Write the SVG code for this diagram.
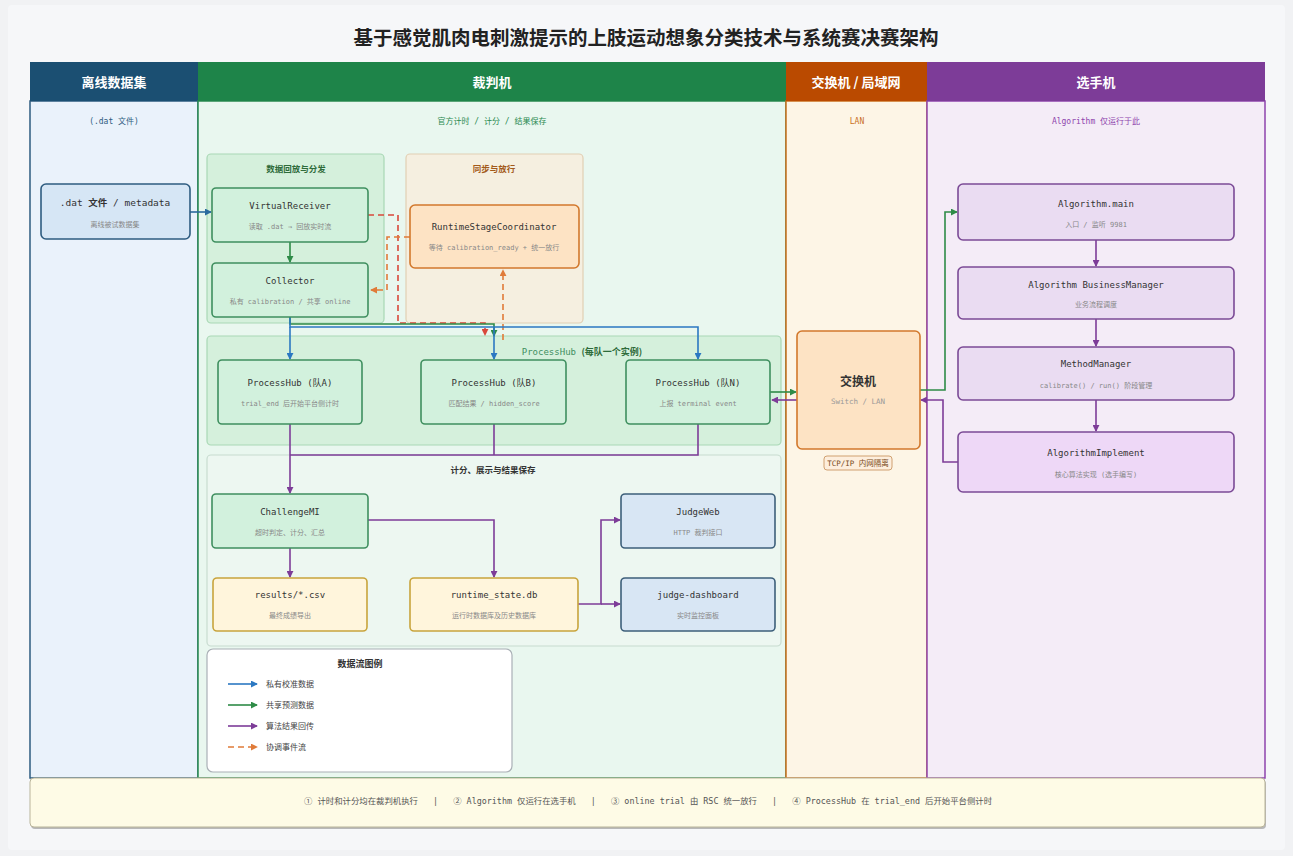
<svg xmlns="http://www.w3.org/2000/svg" width="1293" height="856" viewBox="0 0 1293 856">
<defs>
<style>
.mono{font-family:"DejaVu Sans Mono","Liberation Mono","Noto Sans CJK SC",monospace}
.sans{font-family:"Noto Sans CJK SC","Noto Sans",sans-serif}
.hdr{font-family:"Noto Sans CJK SC",sans-serif;font-size:13px;font-weight:bold;fill:#fff;text-anchor:middle}
.csub{font-size:8px;text-anchor:middle}
.nt{font-size:9px;fill:#333;text-anchor:middle}
.ns{font-size:7px;fill:#888;text-anchor:middle}
.gt{font-family:"Noto Sans CJK SC",sans-serif;font-size:8.5px;font-weight:bold;text-anchor:middle}
.nb{stroke-width:1.6}
.blue{fill:#d6e6f5;stroke:#2e5c80}
.green{fill:#d2f1dd;stroke:#3f8f5f}
.orange{fill:#fde3c4;stroke:#d2782c}
.yellow{fill:#fff5dc;stroke:#c8a43c}
.lblue{fill:#d8e6f4;stroke:#3d5f7a}
.purple{fill:#eadcf2;stroke:#7b4a96}
.c{fill:none;stroke-width:1.6}
.cb{stroke:#2b78c2}
.cg{stroke:#2e8b47}
.cp{stroke:#7d3c98}
.co{stroke:#e07b39;stroke-dasharray:6 4}
.cr{stroke:#d9483b;stroke-dasharray:6 4}
</style>
<marker id="ab" viewBox="0 0 8 8" refX="7" refY="4" markerWidth="7" markerHeight="7" markerUnits="userSpaceOnUse" orient="auto"><path d="M0,0 L8,4 L0,8 z" fill="#2b78c2"/></marker>
<marker id="ag" viewBox="0 0 8 8" refX="7" refY="4" markerWidth="7" markerHeight="7" markerUnits="userSpaceOnUse" orient="auto"><path d="M0,0 L8,4 L0,8 z" fill="#2e8b47"/></marker>
<marker id="ap" viewBox="0 0 8 8" refX="7" refY="4" markerWidth="7" markerHeight="7" markerUnits="userSpaceOnUse" orient="auto"><path d="M0,0 L8,4 L0,8 z" fill="#7d3c98"/></marker>
<marker id="ao" viewBox="0 0 8 8" refX="7" refY="4" markerWidth="7" markerHeight="7" markerUnits="userSpaceOnUse" orient="auto"><path d="M0,0 L8,4 L0,8 z" fill="#e07b39"/></marker>
<marker id="ar" viewBox="0 0 8 8" refX="7" refY="4" markerWidth="7" markerHeight="7" markerUnits="userSpaceOnUse" orient="auto"><path d="M0,0 L8,4 L0,8 z" fill="#d9483b"/></marker>
<marker id="adb" viewBox="0 0 8 8" refX="7" refY="4" markerWidth="7" markerHeight="7" markerUnits="userSpaceOnUse" orient="auto"><path d="M0,0 L8,4 L0,8 z" fill="#2b6a9e"/></marker>
</defs>

<rect x="0" y="0" width="1293" height="856" fill="#f1f2f4"/>
<rect x="8" y="5" width="1277" height="845" rx="4" fill="#f6f7f9"/>

<text x="646" y="45" class="sans" font-size="19.5" font-weight="bold" fill="#222" text-anchor="middle">基于感觉肌肉电刺激提示的上肢运动想象分类技术与系统赛决赛架构</text>

<!-- columns -->
<g id="col-offline">
<rect x="30" y="101" width="168" height="677" fill="#eaf2fb" stroke="#2e5c80" stroke-width="1.5"/>
<rect x="30" y="62" width="168" height="39" fill="#1b4f72"/>
<text x="114" y="87" class="hdr">离线数据集</text>
<text x="114" y="124" class="mono csub" fill="#2e5c80">(.dat 文件)</text>
</g>
<g id="col-judge">
<rect x="198" y="101" width="588" height="677" fill="#e9f7ef" stroke="#2a8a50" stroke-width="1.5"/>
<rect x="198" y="62" width="588" height="39" fill="#1e8449"/>
<text x="492" y="87" class="hdr">裁判机</text>
<text x="492" y="124" class="mono csub" fill="#2a8a50">官方计时 / 计分 / 结果保存</text>
</g>
<g id="col-switch">
<rect x="786" y="101" width="141" height="677" fill="#fdf5e6" stroke="#ca6f1e" stroke-width="1.5"/>
<rect x="786" y="62" width="141" height="39" fill="#ba4a00"/>
<text x="856" y="87" class="hdr">交换机 / 局域网</text>
<text x="857" y="124" class="mono csub" fill="#ca6f1e">LAN</text>
</g>
<g id="col-player">
<rect x="927" y="101" width="338" height="677" fill="#f4ecf7" stroke="#8e44ad" stroke-width="1.5"/>
<rect x="927" y="62" width="338" height="39" fill="#7d3c98"/>
<text x="1096" y="87" class="hdr">选手机</text>
<text x="1096" y="124" class="mono csub" fill="#8e44ad">Algorithm 仅运行于此</text>
</g>

<!-- groups -->
<g id="grp-replay">
<rect x="207" y="154" width="177" height="169" rx="4" fill="#d5f0dc" stroke="#a9d8b5" stroke-width="1.2"/>
<text x="296" y="172" class="gt" fill="#2e6b3a">数据回放与分发</text>
</g>
<g id="grp-sync">
<rect x="406" y="154" width="177" height="169" rx="4" fill="#f5efe0" stroke="#e2cfb3" stroke-width="1.2"/>
<text x="494" y="172" class="gt" fill="#a35a1a">同步与放行</text>
</g>
<g id="grp-processhub">
<rect x="207" y="336" width="574" height="109" rx="4" fill="#d5f0dc" stroke="#a9d8b5" stroke-width="1.2"/>
<text x="582" y="355" font-size="9" text-anchor="middle"><tspan class="mono" fill="#3f8f5f">ProcessHub </tspan><tspan class="sans" font-weight="bold" fill="#2e6b3a">(每队一个实例)</tspan></text>
</g>
<g id="grp-scoring">
<rect x="207" y="455" width="574" height="191" rx="4" fill="#edf7f1" stroke="#c8dcd0" stroke-width="1.2"/>
<text x="493" y="473" class="gt" fill="#333">计分、展示与结果保存</text>
</g>

<!-- connectors -->
<g id="connectors">
<path class="c" stroke="#2b6a9e" d="M190,212 H211" marker-end="url(#adb)"/>
<path class="c cg" d="M290,242 V262" marker-end="url(#ag)"/>
<path class="c cr" d="M368,215 H398 V323 H485 V335" marker-end="url(#ar)"/>
<path class="c co" d="M410,237 H387 V290 H371" marker-end="url(#ao)"/>
<path class="c co" d="M503,340 V270" marker-end="url(#ao)"/>
<path class="c cg" d="M290,317 V324 H494 V336" marker-end="url(#ag)"/>
<path class="c cb" d="M290,317 V327 H698 V359" marker-end="url(#ab)"/>
<path class="c cb" d="M290,327 V359" marker-end="url(#ab)"/>
<path class="c cb" d="M494,327 V359" marker-end="url(#ab)"/>
<path class="c cp" d="M494,424 V455 M698,424 V455 H290"/>
<path class="c cp" d="M290,424 V493" marker-end="url(#ap)"/>
<path class="c cp" d="M290,548 V577" marker-end="url(#ap)"/>
<path class="c cp" d="M368,520 H494 V577" marker-end="url(#ap)"/>
<path class="c cp" d="M578,604 H601 V520 H620" marker-end="url(#ap)"/>
<path class="c cp" d="M601,604 H620" marker-end="url(#ap)"/>
<path class="c cg" d="M770,392 H796" marker-end="url(#ag)"/>
<path class="c cp" d="M797,400 H772" marker-end="url(#ap)"/>
<path class="c cg" d="M920,390 H945 V212 H957" marker-end="url(#ag)"/>
<path class="c cp" d="M958,462 H943 V400 H921" marker-end="url(#ap)"/>
<path class="c cp" d="M1096,240 V266" marker-end="url(#ap)"/>
<path class="c cp" d="M1096,319 V346" marker-end="url(#ap)"/>
<path class="c cp" d="M1096,400 V431" marker-end="url(#ap)"/>
</g>

<!-- nodes -->
<g id="n-dat">
<rect x="41" y="184" width="149" height="55" rx="5" class="blue nb"/>
<text x="115" y="206" class="mono" font-size="9.5" fill="#333" text-anchor="middle">.dat <tspan class="sans" font-weight="bold">文件</tspan> / metadata</text>
<text x="115" y="227" class="mono ns">离线被试数据集</text>
</g>
<g id="n-virtualreceiver">
<rect x="212" y="188" width="156" height="54" rx="4" class="green nb"/>
<text x="290" y="209" class="mono nt">VirtualReceiver</text>
<text x="290" y="229" class="mono ns">读取 .dat → 回放实时流</text>
</g>
<g id="n-collector">
<rect x="212" y="263" width="156" height="54" rx="4" class="green nb"/>
<text x="290" y="284" class="mono nt">Collector</text>
<text x="290" y="304" class="mono ns">私有 calibration / 共享 online</text>
</g>
<g id="n-rsc">
<rect x="410" y="205" width="169" height="63" rx="5" class="orange nb"/>
<text x="494" y="230" class="mono nt">RuntimeStageCoordinator</text>
<text x="494" y="250" class="mono ns">等待 calibration_ready + 统一放行</text>
</g>
<g id="n-ph-a">
<rect x="218" y="360" width="144" height="64" rx="4" class="green nb"/>
<text x="290" y="386" class="mono nt">ProcessHub (队A)</text>
<text x="290" y="406" class="mono ns">trial_end 后开始平台侧计时</text>
</g>
<g id="n-ph-b">
<rect x="421" y="360" width="145" height="64" rx="4" class="green nb"/>
<text x="494" y="386" class="mono nt">ProcessHub (队B)</text>
<text x="494" y="406" class="mono ns">匹配结果 / hidden_score</text>
</g>
<g id="n-ph-n">
<rect x="626" y="360" width="144" height="64" rx="4" class="green nb"/>
<text x="698" y="386" class="mono nt">ProcessHub (队N)</text>
<text x="698" y="406" class="mono ns">上报 terminal event</text>
</g>
<g id="n-challengemi">
<rect x="212" y="494" width="156" height="54" rx="4" class="green nb"/>
<text x="290" y="515" class="mono nt">ChallengeMI</text>
<text x="290" y="535" class="mono ns">超时判定、计分、汇总</text>
</g>
<g id="n-results">
<rect x="213" y="578" width="154" height="53" rx="4" class="yellow nb"/>
<text x="290" y="598" class="mono nt">results/*.csv</text>
<text x="290" y="618" class="mono ns">最终成绩导出</text>
</g>
<g id="n-runtime-db">
<rect x="410" y="578" width="168" height="53" rx="4" class="yellow nb"/>
<text x="494" y="598" class="mono nt">runtime_state.db</text>
<text x="494" y="618" class="mono ns">运行时数据库及历史数据库</text>
</g>
<g id="n-judgeweb">
<rect x="621" y="494" width="154" height="54" rx="4" class="lblue nb"/>
<text x="698" y="515" class="mono nt">JudgeWeb</text>
<text x="698" y="535" class="mono ns">HTTP 裁判接口</text>
</g>
<g id="n-dashboard">
<rect x="621" y="578" width="154" height="53" rx="4" class="lblue nb"/>
<text x="698" y="598" class="mono nt">judge-dashboard</text>
<text x="698" y="618" class="mono ns">实时监控面板</text>
</g>
<g id="n-switch">
<rect x="797" y="331" width="123" height="118" rx="5" class="orange nb"/>
<text x="858" y="386" class="sans" font-size="12" font-weight="bold" fill="#333" text-anchor="middle">交换机</text>
<text x="858" y="404" class="mono" font-size="7.5" fill="#999" text-anchor="middle">Switch / LAN</text>
<rect x="824" y="456" width="68" height="14" rx="3" fill="#fdeedd" stroke="#d0a070" stroke-width="1"/>
<text x="858" y="466" class="mono" font-size="7.5" fill="#7a4a20" text-anchor="middle">TCP/IP 内网隔离</text>
</g>
<g id="n-alg-main">
<rect x="958" y="184" width="276" height="56" rx="5" class="purple nb"/>
<text x="1096" y="207" class="mono nt">Algorithm.main</text>
<text x="1096" y="227" class="mono ns">入口 / 监听 9981</text>
</g>
<g id="n-alg-bm">
<rect x="958" y="267" width="276" height="52" rx="5" class="purple nb"/>
<text x="1096" y="288" class="mono nt">Algorithm BusinessManager</text>
<text x="1096" y="307" class="mono ns">业务流程调度</text>
</g>
<g id="n-methodmanager">
<rect x="958" y="347" width="276" height="53" rx="5" class="purple nb"/>
<text x="1096" y="367" class="mono nt">MethodManager</text>
<text x="1096" y="388" class="mono ns">calibrate() / run() 阶段管理</text>
</g>
<g id="n-alg-impl">
<rect x="958" y="432" width="276" height="60" rx="5" fill="#eed8f7" stroke="#7b4a96" class="nb"/>
<text x="1096" y="456" class="mono nt">AlgorithmImplement</text>
<text x="1096" y="477" class="mono ns">核心算法实现 (选手编写)</text>
</g>

<!-- legend -->
<g id="legend">
<rect x="207" y="649" width="305" height="123" rx="6" fill="#fff" stroke="#aab0b6" stroke-width="1.2"/>
<text x="360" y="667" class="sans" font-size="9" font-weight="bold" fill="#333" text-anchor="middle">数据流图例</text>
<path class="c cb" d="M228,684 H257" marker-end="url(#ab)"/>
<path class="c cg" d="M228,705 H257" marker-end="url(#ag)"/>
<path class="c cp" d="M228,726 H257" marker-end="url(#ap)"/>
<path class="c co" d="M228,747 H257" marker-end="url(#ao)"/>
<text x="266" y="687" class="sans" font-size="8" fill="#444">私有校准数据</text>
<text x="266" y="708" class="sans" font-size="8" fill="#444">共享预测数据</text>
<text x="266" y="729" class="sans" font-size="8" fill="#444">算法结果回传</text>
<text x="266" y="750" class="sans" font-size="8" fill="#444">协调事件流</text>
</g>

<!-- footer -->
<g id="footer">
<rect x="31" y="780" width="1235" height="49" rx="4" fill="#7a7a7a" opacity="0.5"/>
<rect x="30" y="778" width="1235" height="49" rx="4" fill="#fefbe6" stroke="#b9b49a" stroke-width="1"/>
<text x="648" y="804" class="mono" font-size="8.4" fill="#555" text-anchor="middle" xml:space="preserve">① 计时和计分均在裁判机执行   |   ② Algorithm 仅运行在选手机   |   ③ online trial 由 RSC 统一放行   |   ④ ProcessHub 在 trial_end 后开始平台侧计时</text>
</g>
</svg>
